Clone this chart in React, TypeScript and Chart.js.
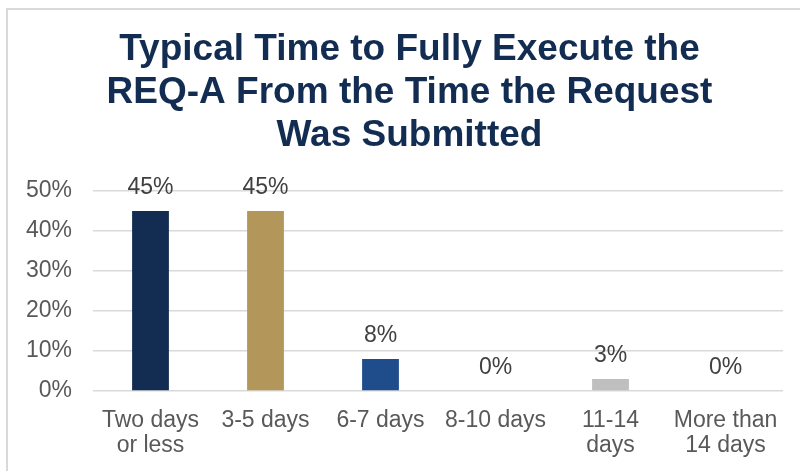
import React, { useEffect, useRef } from "react";
import { Chart, registerables } from "chart.js";

Chart.register(...registerables);

const titleLines = [
  "Typical Time to Fully Execute the",
  "REQ-A From the Time the Request",
  "Was Submitted",
];
const categories: (string | string[])[] = [
  ["Two days", "or less"],
  "3-5 days",
  "6-7 days",
  "8-10 days",
  ["11-14", "days"],
  ["More than", "14 days"],
];
const values = [45, 45, 8, 0, 3, 0];
const barColors = ["#132C51", "#B3975A", "#1F4D8B", "#1F4D8B", "#BFBFBF", "#BFBFBF"];
const yMax = 50;
const yStep = 10;

const FONT = "'Liberation Sans', Arial, Helvetica, sans-serif";

const valueLabels = {
  id: "valueLabels",
  afterDatasetsDraw(chart: any) {
    const ctx = chart.ctx;
    const meta = chart.getDatasetMeta(0);
    ctx.save();
    ctx.font = `23px ${FONT}`;
    ctx.fillStyle = "#404040";
    ctx.textAlign = "center";
    ctx.textBaseline = "alphabetic";
    meta.data.forEach((bar: any, i: number) => {
      const v = chart.data.datasets[0].data[i];
      ctx.fillText(`${v}%`, bar.x, bar.y - 17);
    });
    ctx.restore();
  },
};

const centeredTitle = {
  id: "centeredTitle",
  afterDraw(chart: any) {
    const ctx = chart.ctx;
    const lineHeight = 43;
    ctx.save();
    ctx.font = `bold 37px ${FONT}`;
    ctx.fillStyle = "#132C51";
    ctx.textAlign = "center";
    ctx.textBaseline = "middle";
    titleLines.forEach((line, i) => {
      ctx.fillText(line, chart.width / 2, 18.5 + lineHeight / 2 + i * lineHeight);
    });
    ctx.restore();
  },
};

export default function App() {
  const ref = useRef<HTMLCanvasElement | null>(null);
  useEffect(() => {
    if (!ref.current) return;
    const chart = new Chart(ref.current, {
      type: "bar",
      data: {
        labels: categories,
        datasets: [
          {
            data: values,
            backgroundColor: barColors,
            barPercentage: 0.32,
            categoryPercentage: 1,
          },
        ],
      },
      options: {
        animation: false,
        responsive: false,
        devicePixelRatio: 1,
        layout: { padding: { left: 0, right: 28, top: 181, bottom: 0 } },
        plugins: {
          legend: { display: false },
          tooltip: { enabled: false },
          title: { display: false },
        },
        scales: {
          x: {
            grid: { display: false, drawTicks: false },
            border: { display: false },
            ticks: {
              color: "#595959",
              font: { family: FONT, size: 23, lineHeight: 1.1 },
              padding: 17,
              maxRotation: 0,
              autoSkip: false,
            },
            afterFit: (s: any) => {
              s.height = 80;
            },
          },
          y: {
            min: 0,
            max: yMax,
            grid: { color: "#D9D9D9", lineWidth: 1.5, drawTicks: false },
            border: { display: false },
            ticks: {
              stepSize: yStep,
              color: "#595959",
              font: { family: FONT, size: 23 },
              padding: 21,
              callback: (v: any) => `${v}%`,
            },
            afterFit: (s: any) => {
              s.width = 85;
            },
          },
        },
      },
      plugins: [valueLabels, centeredTitle],
    });
    return () => chart.destroy();
  }, []);

  return (
    <div
      style={{
        position: "absolute",
        left: 6,
        top: 8,
        width: 794,
        height: 463,
        boxSizing: "border-box",
        borderTop: "2px solid #D9D9D9",
        borderLeft: "2px solid #D9D9D9",
        overflow: "hidden",
        background: "#FFFFFF",
      }}
    >
      <canvas
        ref={ref}
        width={803}
        height={461}
        style={{ display: "block", width: 803, height: 461 }}
      />
    </div>
  );
}
